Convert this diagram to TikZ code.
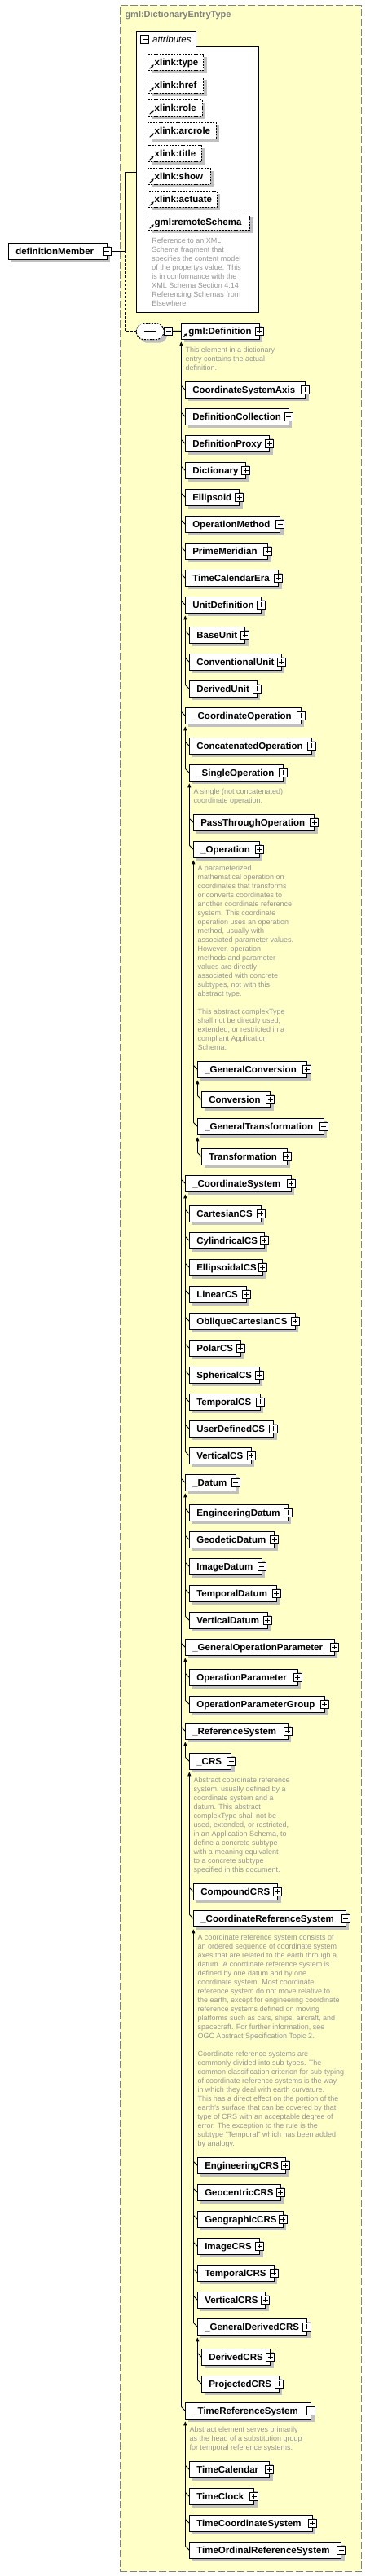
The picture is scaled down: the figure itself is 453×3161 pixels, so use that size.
\documentclass[tikz,border=0pt]{standalone}
\usepackage{fontspec}
\setmainfont{Liberation Sans}
\usetikzlibrary{arrows.meta,calc,shadows}

\definecolor{paleyellow}{HTML}{FFFFC8}
\definecolor{framegray}{HTML}{808080}
\definecolor{shadowgray}{HTML}{C0C0C0}
\definecolor{docgray}{HTML}{969696}

\begin{document}
\begin{tikzpicture}[
        x=1pt, y=-1pt,
        line/.style={black, line width=1pt},
        elem/.style={draw, line width=1pt, fill=white, anchor=north west,
            minimum height=20pt, inner xsep=9pt, inner ysep=0pt, outer sep=0pt,
            text height=9.5pt, text depth=1.5pt, align=left,
            font=\fontsize{11.5}{13}\selectfont\bfseries,
            drop shadow={shadow xshift=4pt, shadow yshift=-4pt, opacity=1,
                fill=shadowgray}},
        attr/.style={elem, inner xsep=8pt, dash pattern=on 2pt off 1.5pt},
        plusbox/.style={draw, line width=1pt, fill=white, minimum size=10pt,
            inner sep=0pt, outer sep=0pt,
            path picture={\draw[line width=0.9pt]
                ($(path picture bounding box.west)+(2,0)$) --
                ($(path picture bounding box.east)+(-2,0)$)
                ($(path picture bounding box.north)+(0,2)$) --
                ($(path picture bounding box.south)+(0,-2)$);}},
        minusbox/.style={draw, line width=1pt, fill=white, minimum size=10pt,
            inner sep=0pt, outer sep=0pt,
            path picture={\draw[line width=0.9pt]
                ($(path picture bounding box.west)+(2,0)$) --
                ($(path picture bounding box.east)+(-2,0)$);}},
        doc/.style={anchor=north west, inner sep=0pt, align=left,
            font=\fontsize{9}{11}\selectfont, text=docgray},
        title/.style={inner sep=0pt, anchor=west, text=framegray,
            font=\fontsize{11}{13}\selectfont\bfseries},
        subst/.style={line, {Triangle[length=5pt,width=4pt]}-},
        refarrow/.style={line width=0.9pt, -{Triangle[length=3pt,width=3pt]}},
    ]
    \useasboundingbox (0,0) rectangle (453,3161);
    % complex type frame
    \node[draw=framegray, fill=paleyellow, line width=1.2pt,
        dash pattern=on 9pt off 3pt, anchor=north west, inner sep=0pt,
        minimum width=296pt, minimum height=3149.3pt] (entryType) at (146.7,5.7) {};
    \node[title] (typeName) at (153.3,19) {gml:DictionaryEntryType};

    % attributes group
    \draw[line, fill=white] (167.3,38.3) -- (240,38.3) -- (240,57.3) --
        (317.3,57.3) -- (317.3,383.3) -- (167.3,383.3) -- cycle;
    \node[minusbox] (attrMinus) at (177.5,48.5) {};
    \node[anchor=west, inner sep=0pt, font=\fontsize{11.5}{13}\selectfont\itshape]
        (attrLabel) at (187,48.3) {attributes};
    \coordinate (attrIn) at (167.3,211.3);
    \foreach \n/\ty/\rx/\lab [evaluate=\rx as \tw using \rx-181.7-16] in {
        xType/66.3/249.7/xlink:type,
        xHref/94.3/249.7/xlink:href,
        xRole/122.3/248/xlink:role,
        xArcrole/150.3/265/xlink:arcrole,
        xTitle/178.3/247/xlink:title,
        xShow/206.3/258/xlink:show,
        xActuate/234.3/266/xlink:actuate,
        remoteSchema/262.3/306/gml:remoteSchema}{
        \node[attr, text width=\tw pt] (\n) at (181.7,\ty) {\mbox{\lab}};
        \draw[refarrow] ([shift={(2,-2)}]\n.south west) -- ++(5,-5);
    }
    \node[doc] (remoteSchemaDoc) at ([shift={(4.5,9)}]remoteSchema.south west)
        {Reference to an XML\\Schema fragment that\\specifies the content model\\
         of the propertys value. This\\is in conformance with the\\
         XML Schema Section 4.14\\Referencing Schemas from\\Elsewhere.};

    % the element
    \node[elem, text width=102.7pt] (member) at (10.3,298.3) {\mbox{definitionMember}};
    \node[minusbox] (memberMinus) at (member.east) {};

    % sequence
    \draw[line, fill=white, dash pattern=on 2pt off 1.5pt, rounded corners=2pt,
        drop shadow={shadow xshift=4pt, shadow yshift=-4pt, opacity=1, fill=shadowgray}]
        (173.3,396.7) -- (195,396.7) -- (201,402.7) -- (201,410.7) -- (195,416.7) --
        (173.3,416.7) -- (167.3,410.7) -- (167.3,402.7) -- cycle;
    \draw[line] (176.7,406.7) -- (191.7,406.7);
    \foreach \dx in {179.3,184,188.7}
        \fill ($(\dx,406.7)+(-1.2,-1.2)$) rectangle ++(2.4,2.4);
    \coordinate (seqIn) at (167.3,406.5);
    \node[minusbox] (seqMinus) at (206.7,406.5) {};

    % substitution group head
    \node[elem, text width=78pt] (Definition) at (222.3,396.3) {\mbox{gml:Definition}};
    \node[plusbox] (pDefinition) at (Definition.east) {};
    \draw[refarrow] ([shift={(2,-2)}]Definition.south west) -- ++(5,-5);
    \node[doc] (DefinitionDoc) at ([shift={(5,9)}]Definition.south west)
        {This element in a dictionary\\entry contains the actual\\definition.};

    % substitution group members
    \foreach \n/\lx/\ty/\rx/\lab [evaluate=\rx as \tw using \rx-\lx-18] in {
        CoordinateSystemAxis/227.3/468.3/374.7/CoordinateSystemAxis,
        DefinitionCollection/227.3/501.3/354.3/DefinitionCollection,
        DefinitionProxy/227.3/534.3/330.7/DefinitionProxy,
        Dictionary/227.3/567.3/301.7/Dictionary,
        Ellipsoid/227.3/600.3/293.7/Ellipsoid,
        OperationMethod/227.3/633.3/343.7/OperationMethod,
        PrimeMeridian/227.3/666.3/328.7/PrimeMeridian,
        TimeCalendarEra/227.3/699.3/341.7/TimeCalendarEra,
        UnitDefinition/227.3/732.3/320.7/UnitDefinition,
        BaseUnit/232.3/769.3/300.7/BaseUnit,
        ConventionalUnit/232.3/802.3/345.3/ConventionalUnit,
        DerivedUnit/232.3/835.3/315.3/DerivedUnit,
        CoordinateOperation/227.3/868.3/369.3/\_CoordinateOperation,
        ConcatenatedOperation/232.3/905.3/382.7/ConcatenatedOperation,
        SingleOperation/232.3/938.3/347.3/\_SingleOperation,
        PassThroughOperation/237.3/999.3/385.7/PassThroughOperation,
        Operation/237.3/1032.3/318.3/\_Operation,
        GeneralConversion/242.3/1302.3/376.7/\_GeneralConversion,
        Conversion/247.3/1339.3/331.7/Conversion,
        GeneralTransformation/242.3/1372.3/397.3/\_GeneralTransformation,
        Transformation/247.3/1409.3/352.3/Transformation,
        CoordinateSystem/227.3/1442.3/357.3/\_CoordinateSystem,
        CartesianCS/232.3/1479.3/320.3/CartesianCS,
        CylindricalCS/232.3/1512.3/324/CylindricalCS,
        EllipsoidalCS/232.3/1545.3/322.3/EllipsoidalCS,
        LinearCS/232.3/1578.3/302.3/LinearCS,
        ObliqueCartesianCS/232.3/1611.3/362.3/ObliqueCartesianCS,
        PolarCS/232.3/1644.3/295.3/PolarCS,
        SphericalCS/232.3/1677.3/318.3/SphericalCS,
        TemporalCS/232.3/1710.3/319.3/TemporalCS,
        UserDefinedCS/232.3/1743.3/335.7/UserDefinedCS,
        VerticalCS/232.3/1776.3/308.3/VerticalCS,
        Datum/227.3/1809.3/289.3/\_Datum,
        EngineeringDatum/232.3/1846.3/353.3/EngineeringDatum,
        GeodeticDatum/232.3/1879.3/336.7/GeodeticDatum,
        ImageDatum/232.3/1912.3/321.3/ImageDatum,
        TemporalDatum/232.3/1945.3/339.3/TemporalDatum,
        VerticalDatum/232.3/1978.3/328.3/VerticalDatum,
        GeneralOperationParameter/227.3/2011.3/410.3/\_GeneralOperationParameter,
        OperationParameter/232.3/2048.3/365.3/OperationParameter,
        OperationParameterGroup/232.3/2081.3/398.3/OperationParameterGroup,
        ReferenceSystem/227.3/2114.3/353.3/\_ReferenceSystem,
        CRS/232.3/2151.3/283.7/\_CRS,
        CompoundCRS/237.3/2311.3/340.7/CompoundCRS,
        CoordinateReferenceSystem/237.3/2344.3/424.3/\_CoordinateReferenceSystem,
        EngineeringCRS/242.3/2647.3/350.3/EngineeringCRS,
        GeocentricCRS/242.3/2680.3/344.3/GeocentricCRS,
        GeographicCRS/242.3/2713.3/347.3/GeographicCRS,
        ImageCRS/242.3/2746.3/318.7/ImageCRS,
        TemporalCRS/242.3/2779.3/336.3/TemporalCRS,
        VerticalCRS/242.3/2812.3/325.7/VerticalCRS,
        GeneralDerivedCRS/242.3/2845.3/376.7/\_GeneralDerivedCRS,
        DerivedCRS/247.3/2882.3/331.7/DerivedCRS,
        ProjectedCRS/247.3/2915.3/342.3/ProjectedCRS,
        TimeReferenceSystem/227.3/2948.3/381.7/\_TimeReferenceSystem,
        TimeCalendar/232.3/3020.3/330.7/TimeCalendar,
        TimeClock/232.3/3053.3/311.7/TimeClock,
        TimeCoordinateSystem/232.3/3086.3/383.3/TimeCoordinateSystem,
        TimeOrdinalReferenceSystem/232.3/3119.3/418.7/TimeOrdinalReferenceSystem}{
        \node[elem, text width=\tw pt] (\n) at (\lx,\ty) {\mbox{\lab}};
        \node[plusbox] (p\n) at (\n.east) {};
        \draw[line] ([shift={(-5,-5)}]\n.west) -- (\n.west);
    }

    % annotations
    \node[doc] (SingleOperationDoc) at ([shift={(5,9)}]SingleOperation.south west)
        {A single (not concatenated)\\coordinate operation.};
    \node[doc] (OperationDoc) at ([shift={(5,9)}]Operation.south west)
        {A parameterized\\mathematical operation on\\coordinates that transforms\\
         or converts coordinates to\\another coordinate reference\\
         system. This coordinate\\operation uses an operation\\method, usually with\\
         associated parameter values.\\However, operation\\methods and parameter\\
         values are directly\\associated with concrete\\subtypes, not with this\\
         abstract type.\\[11pt]
         This abstract complexType\\shall not be directly used,\\
         extended, or restricted in a\\compliant Application\\Schema.};
    \node[doc] (CRSDoc) at ([shift={(5,9)}]CRS.south west)
        {Abstract coordinate reference\\system, usually defined by a\\
         coordinate system and a\\datum. This abstract\\complexType shall not be\\
         used, extended, or restricted,\\in an Application Schema, to\\
         define a concrete subtype\\with a meaning equivalent\\to a concrete subtype\\
         specified in this document.};
    \node[doc] (CoordinateReferenceSystemDoc)
        at ([shift={(5,9)}]CoordinateReferenceSystem.south west)
        {A coordinate reference system consists of\\
         an ordered sequence of coordinate system\\
         axes that are related to the earth through a\\
         datum. A coordinate reference system is\\
         defined by one datum and by one\\
         coordinate system. Most coordinate\\
         reference system do not move relative to\\
         the earth, except for engineering coordinate\\
         reference systems defined on moving\\
         platforms such as cars, ships, aircraft, and\\
         spacecraft. For further information, see\\
         OGC Abstract Specification Topic 2.\\[11pt]
         Coordinate reference systems are\\
         commonly divided into sub-types. The\\
         common classification criterion for sub-typing\\
         of coordinate reference systems is the way\\
         in which they deal with earth curvature.\\
         This has a direct effect on the portion of the\\
         earth's surface that can be covered by that\\
         type of CRS with an acceptable degree of\\
         error. The exception to the rule is the\\
         subtype "Temporal" which has been added\\
         by analogy.};
    \node[doc] (TimeReferenceSystemDoc) at ([shift={(5,9)}]TimeReferenceSystem.south west)
        {Abstract element serves primarily\\as the head of a substitution group\\
         for temporal reference systems.};

    % substitution lines
    \foreach \p/\c in {Definition/TimeReferenceSystem,
        UnitDefinition/DerivedUnit,
        CoordinateOperation/SingleOperation,
        SingleOperation/Operation,
        Operation/GeneralTransformation,
        GeneralConversion/Conversion,
        GeneralTransformation/Transformation,
        CoordinateSystem/VerticalCS,
        Datum/VerticalDatum,
        GeneralOperationParameter/OperationParameterGroup,
        ReferenceSystem/CRS,
        CRS/CoordinateReferenceSystem,
        CoordinateReferenceSystem/GeneralDerivedCRS,
        GeneralDerivedCRS/ProjectedCRS,
        TimeReferenceSystem/TimeOrdinalReferenceSystem}
        \draw[subst] ([yshift=-3pt]\p.south west) -- ([shift={(-5,-5)}]\c.west);

    % connectors
    \draw[line] (memberMinus.east) -- ++(17,0) coordinate (fork);
    \draw[line] (fork) |- (attrIn);
    \draw[line, dash pattern=on 3pt off 2pt] (fork) |- (seqIn);
    \draw[line] (seqMinus.east) -- (Definition.west);
\end{tikzpicture}
\end{document}
